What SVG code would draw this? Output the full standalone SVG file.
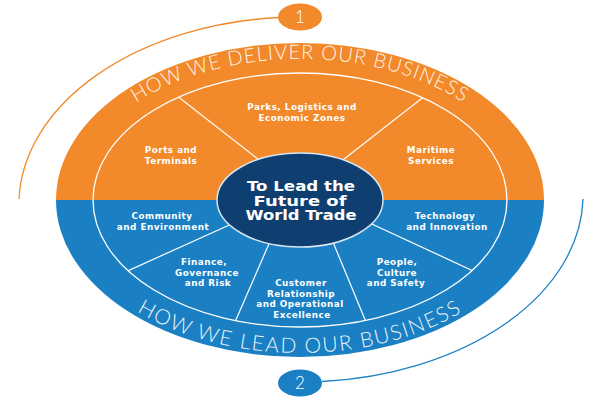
<svg xmlns="http://www.w3.org/2000/svg" width="600" height="400" viewBox="0 0 600 400">
<style>
.lbl{font-family:"DejaVu Sans","Liberation Sans",sans-serif;font-weight:bold;font-size:8.8px;letter-spacing:0.5px;fill:#ffffff;text-anchor:middle}
.ctr{font-family:"DejaVu Sans","Liberation Sans",sans-serif;font-weight:bold;font-size:13.5px;fill:#ffffff;text-anchor:middle}
.arcTxt{font-family:Lato,"Open Sans",sans-serif;font-weight:300;fill:#ffffff;fill-opacity:0.92}
.num{font-family:Lato,"Open Sans",sans-serif;font-weight:300;font-size:17px;fill:#ffffff;text-anchor:middle}
.div{stroke:#ffffff;stroke-width:1.2;fill:none}
</style>
<defs>
<clipPath id="innerClip"><ellipse cx="300" cy="200" rx="207" ry="127"/></clipPath>
<path id="arcTop" d="M 74,200 A 226 141 0 0 1 526,200"/>
<path id="arcBot" d="M 62,200 A 238 153 0 0 0 538,200"/>
</defs>
<rect width="600" height="400" fill="#ffffff"/>

<g id="outer-ring">
<path d="M 56,200 A 244 157 0 0 1 544,200 Z" fill="#f28a2b"/>
<path d="M 56,200 A 244 157 0 0 0 544,200 Z" fill="#1b80c3"/>
<ellipse cx="300" cy="200" rx="207" ry="127" fill="none" stroke="#ffffff" stroke-width="1.3"/>
<text class="arcTxt" font-size="20" letter-spacing="1"><textPath href="#arcTop" startOffset="50%" text-anchor="middle">HOW WE DELIVER OUR BUSINESS</textPath></text>
<text class="arcTxt" font-size="21" letter-spacing="1.6"><textPath href="#arcBot" startOffset="50%" text-anchor="middle">HOW WE LEAD OUR BUSINESS</textPath></text>
</g>

<g id="connectors">
<g clip-path="url(#innerClip)">
<line class="div" x1="263" y1="163" x2="140" y2="67"/>
<line class="div" x1="339" y1="163" x2="462" y2="67"/>
<line class="div" x1="236" y1="222" x2="81" y2="292"/>
<line class="div" x1="275" y1="230" x2="215" y2="368"/>
<line class="div" x1="328" y1="230" x2="385" y2="368"/>
<line class="div" x1="361" y1="219" x2="523" y2="294"/>
</g>
<path d="M 19,199 A 281 188 0 0 1 279,17.5" fill="none" stroke="#f28a2b" stroke-width="1.3"/>
<path d="M 583,199 A 283 187 0 0 1 322,381.5" fill="none" stroke="#1b80c3" stroke-width="1.3"/>
</g>

<g id="center">
<ellipse cx="300" cy="200" rx="83" ry="47" fill="#0f3f70" stroke="#d6e6f3" stroke-width="1.5"/>
<text class="ctr" x="301" y="191" textLength="108" lengthAdjust="spacingAndGlyphs">To Lead the</text>
<text class="ctr" x="300" y="205.5" textLength="93" lengthAdjust="spacingAndGlyphs">Future of</text>
<text class="ctr" x="301" y="220" textLength="111" lengthAdjust="spacingAndGlyphs">World Trade</text>
</g>

<g id="parks"><text class="lbl" x="302" y="110">Parks, Logistics and</text><text class="lbl" x="302" y="120.6">Economic Zones</text></g>
<g id="ports"><text class="lbl" x="171" y="153">Ports and</text><text class="lbl" x="171" y="163.6">Terminals</text></g>
<g id="maritime"><text class="lbl" x="431" y="153">Maritime</text><text class="lbl" x="431" y="163.6">Services</text></g>
<g id="community"><text class="lbl" x="162" y="219">Community</text><text class="lbl" x="163" y="229.6">and Environment</text></g>
<g id="technology"><text class="lbl" x="445" y="219">Technology</text><text class="lbl" x="447" y="229.6">and Innovation</text></g>
<g id="finance"><text class="lbl" x="204" y="265">Finance,</text><text class="lbl" x="207" y="275.6">Governance</text><text class="lbl" x="208" y="286.2">and Risk</text></g>
<g id="customer"><text class="lbl" x="301" y="286">Customer</text><text class="lbl" x="301" y="296.6">Relationship</text><text class="lbl" x="300" y="307.2">and Operational</text><text class="lbl" x="302" y="317.8">Excellence</text></g>
<g id="people"><text class="lbl" x="397" y="265">People,</text><text class="lbl" x="397" y="275.6">Culture</text><text class="lbl" x="396" y="286.2">and Safety</text></g>

<g id="step1"><ellipse cx="300" cy="17" rx="22" ry="13.5" fill="#f28a2b"/><text class="num" x="300" y="23">1</text></g>
<g id="step2"><ellipse cx="300" cy="383" rx="22" ry="13.5" fill="#1b80c3"/><text class="num" x="300" y="389">2</text></g>
</svg>
